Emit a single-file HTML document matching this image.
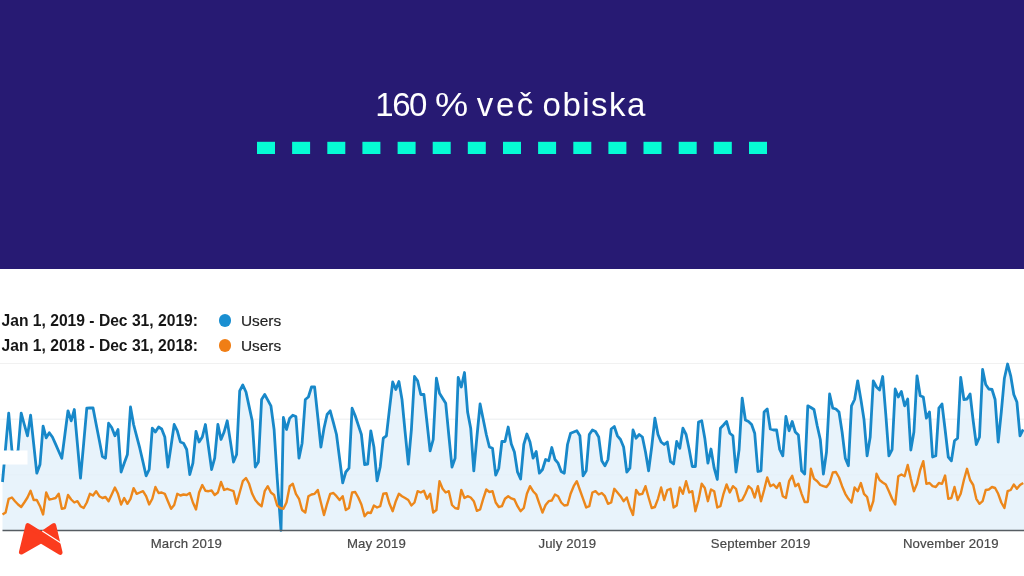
<!DOCTYPE html>
<html lang="sl"><head><meta charset="utf-8"><title>160 % več obiska</title>
<style>
html,body{margin:0;padding:0;}
body{width:1024px;height:576px;overflow:hidden;background:#fff;position:relative;font-family:"Liberation Sans",sans-serif;}
.hdr{position:absolute;left:0;top:0;width:1024px;height:268.5px;background:#271a73;}
.title span{position:absolute;top:0}
.title{position:absolute;left:0;top:85.2px;color:#fff;font-size:33px;line-height:40px;letter-spacing:0.75px;white-space:nowrap;}
.lg{position:absolute;left:1.5px;font-weight:bold;font-size:15.65px;line-height:18px;color:#161616;white-space:nowrap;}
.us{position:absolute;left:241px;font-size:15.4px;line-height:18px;color:#222;-webkit-text-stroke:0.2px #222;white-space:nowrap;}
.dot{position:absolute;width:12.6px;height:12.6px;border-radius:50%;}
.ax{position:absolute;top:536px;font-size:13.2px;letter-spacing:0.15px;line-height:15px;color:#484848;-webkit-text-stroke:0.2px #484848;white-space:nowrap;transform:translateX(-50%);}
svg{position:absolute;left:0;top:0;}
</style></head><body>
<div class="hdr"></div>
<div class="title"><span style="left:375.3px;letter-spacing:-1.5px">160</span> <span style="left:435.1px;letter-spacing:0;transform:scaleX(1.13);transform-origin:0 0">%</span> <span style="left:476.8px;letter-spacing:2.6px">več</span> <span style="left:542.6px;letter-spacing:1.45px">obiska</span></div>
<div class="lg" style="top:312.2px">Jan 1, 2019 - Dec 31, 2019:</div>
<div class="lg" style="top:337.2px">Jan 1, 2018 - Dec 31, 2018:</div>
<div class="dot" style="left:218.7px;top:314.2px;background:#1a8fd1"></div>
<div class="dot" style="left:218.7px;top:339.1px;background:#f07e15"></div>
<div class="us" style="top:312.1px">Users</div>
<div class="us" style="top:337.1px">Users</div>
<svg width="1024" height="576" viewBox="0 0 1024 576">
<g fill="#06fbd5"><rect x="257.0" y="141.8" width="18" height="12.2"/><rect x="292.1" y="141.8" width="18" height="12.2"/><rect x="327.3" y="141.8" width="18" height="12.2"/><rect x="362.4" y="141.8" width="18" height="12.2"/><rect x="397.6" y="141.8" width="18" height="12.2"/><rect x="432.7" y="141.8" width="18" height="12.2"/><rect x="467.8" y="141.8" width="18" height="12.2"/><rect x="503.0" y="141.8" width="18" height="12.2"/><rect x="538.1" y="141.8" width="18" height="12.2"/><rect x="573.3" y="141.8" width="18" height="12.2"/><rect x="608.4" y="141.8" width="18" height="12.2"/><rect x="643.5" y="141.8" width="18" height="12.2"/><rect x="678.7" y="141.8" width="18" height="12.2"/><rect x="713.8" y="141.8" width="18" height="12.2"/><rect x="749.0" y="141.8" width="18" height="12.2"/></g>
<g stroke="#f1f1f1" stroke-width="1"><line x1="0" y1="363.5" x2="1024" y2="363.5"/><line x1="0" y1="419.2" x2="1024" y2="419.2"/><line x1="0" y1="474.8" x2="1024" y2="474.8"/></g>
<polygon points="2.5,530.5 2.5,482.0 5.6,447.6 8.7,413.2 11.9,450.0 15.0,458.2 18.1,450.0 21.2,413.2 24.3,424.5 27.5,435.8 30.6,415.2 33.7,444.2 36.8,473.2 40.0,464.5 43.1,426.2 46.2,437.8 49.3,432.8 52.4,437.0 55.6,444.1 58.7,451.2 61.8,458.2 64.9,434.5 68.0,410.8 71.2,420.8 74.3,409.5 77.4,443.9 80.5,478.2 83.7,443.2 86.8,408.2 89.9,408.0 93.0,407.8 96.1,424.0 99.3,440.2 102.4,456.5 105.5,458.2 108.6,423.2 111.7,427.5 114.9,435.8 118.0,429.5 121.1,472.0 124.2,463.2 127.4,454.5 130.5,407.0 133.6,424.5 136.7,436.4 139.8,448.2 143.0,462.0 146.1,475.8 149.2,469.5 152.3,428.2 155.4,432.0 158.6,427.0 161.7,429.0 164.8,437.0 167.9,467.0 171.1,445.8 174.2,424.5 177.3,430.8 180.4,442.0 183.5,443.2 186.7,449.5 189.8,474.5 192.9,463.2 196.0,431.5 199.1,442.0 202.3,437.0 205.4,424.5 208.5,447.0 211.6,469.5 214.7,458.2 217.9,424.5 221.0,439.5 224.1,432.0 227.2,420.8 230.4,441.4 233.5,462.0 236.6,454.5 239.7,390.8 242.8,385.0 246.0,392.0 249.1,406.4 252.2,420.8 255.3,467.0 258.4,462.0 261.6,399.5 264.7,394.5 267.8,400.1 270.9,405.8 274.1,429.5 277.2,478.2 281.0,530.3 283.4,417.5 286.5,429.5 289.7,418.2 292.8,415.2 295.9,416.5 299.0,458.2 302.1,443.2 305.3,399.5 308.4,397.0 311.5,387.0 314.6,387.0 317.8,417.0 320.9,447.0 324.0,428.2 327.1,414.5 330.2,410.8 333.4,422.6 336.5,434.5 339.6,458.6 342.7,482.8 345.8,472.0 349.0,468.2 352.1,408.2 355.2,415.8 358.3,425.1 361.4,434.5 364.6,464.5 367.7,464.0 370.8,430.8 373.9,447.0 377.1,480.8 380.2,467.0 383.3,438.2 386.4,435.8 389.5,408.9 392.7,382.0 395.8,389.5 398.9,381.5 402.0,399.5 405.1,431.8 408.3,464.0 411.4,429.5 414.5,376.5 417.6,380.8 420.8,394.5 423.9,394.5 427.0,422.6 430.1,450.8 433.2,439.5 436.4,378.2 439.5,393.2 442.6,398.2 445.7,403.2 448.8,435.1 452.0,467.0 455.1,458.2 458.2,377.5 461.3,387.0 464.5,372.5 467.6,412.0 470.7,428.2 473.8,470.8 476.9,437.0 480.1,404.0 483.2,419.2 486.3,434.5 489.4,447.0 492.5,448.2 495.7,475.2 498.8,468.2 501.9,441.5 505.0,441.5 508.2,427.0 511.3,443.9 514.4,452.0 517.5,472.0 520.6,479.0 523.8,444.5 526.9,434.0 530.0,442.0 533.1,458.2 536.2,451.5 539.4,473.2 542.5,469.5 545.6,459.5 548.7,460.8 551.8,447.5 555.0,459.5 558.1,463.2 561.2,471.5 564.3,473.2 567.5,444.5 570.6,433.2 573.7,432.0 576.8,430.8 579.9,435.8 583.1,475.8 586.2,470.8 589.3,434.5 592.4,430.0 595.5,431.5 598.7,437.0 601.8,460.8 604.9,465.8 608.0,459.5 611.2,429.0 614.3,426.5 617.4,435.8 620.5,439.5 623.6,447.0 626.8,472.0 629.9,468.2 633.0,430.0 636.1,438.2 639.2,434.5 642.4,437.0 645.5,452.0 648.6,470.8 651.7,447.0 654.9,418.2 658.0,434.5 661.1,442.0 664.2,444.5 667.3,442.0 670.5,461.7 673.6,464.0 676.7,441.5 679.8,448.2 682.9,428.2 686.1,434.5 689.2,449.5 692.3,466.5 695.4,466.5 698.5,422.0 701.7,420.8 704.8,438.2 707.9,463.2 711.0,449.0 714.2,468.2 717.3,479.5 720.4,428.2 723.5,425.0 726.6,421.5 729.8,433.2 732.9,435.8 736.0,472.0 739.1,449.5 742.2,398.2 745.4,420.0 748.5,421.5 751.6,424.5 754.7,433.2 757.9,471.5 761.0,470.8 764.1,412.0 767.2,408.9 770.3,429.0 773.5,430.0 776.6,430.0 779.7,449.5 782.8,455.8 785.9,416.5 789.1,430.8 792.2,421.5 795.3,432.0 798.4,435.0 801.6,470.8 804.7,474.0 807.8,405.8 810.9,407.5 814.0,409.5 817.2,425.8 820.3,439.5 823.4,474.0 826.5,452.0 829.6,394.0 832.8,408.2 835.9,409.0 839.0,412.0 842.1,432.0 845.3,458.2 848.4,465.8 851.5,405.8 854.6,399.5 857.7,380.8 860.9,399.5 864.0,419.5 867.1,455.8 870.2,437.0 873.3,380.8 876.5,387.0 879.6,390.0 882.7,376.5 885.8,414.5 888.9,455.8 892.1,449.5 895.2,389.0 898.3,397.0 901.4,391.5 904.6,405.8 907.7,399.0 910.8,450.0 913.9,432.0 917.0,375.8 920.2,395.8 923.3,397.0 926.4,418.2 929.5,412.0 932.6,457.0 935.8,455.8 938.9,408.2 942.0,404.0 945.1,429.5 948.3,457.0 951.4,460.8 954.5,440.8 957.6,438.2 960.7,377.5 963.9,399.5 967.0,399.0 970.1,394.0 973.2,420.8 976.3,444.5 979.5,437.0 982.6,369.5 985.7,384.5 988.8,389.0 992.0,389.5 995.1,399.5 998.2,442.0 1001.3,412.0 1004.4,378.2 1007.6,364.0 1010.7,375.8 1013.8,394.5 1016.9,402.0 1020.0,435.8 1023.2,429.5 1024,429.5 1024,530.5" fill="#e8f3fb"/>
<g stroke="#dfe8f0" stroke-width="1" opacity="0.25"><line x1="2.5" y1="419.2" x2="1024" y2="419.2"/><line x1="2.5" y1="474.8" x2="1024" y2="474.8"/></g>
<polyline points="2.5,482.0 5.6,447.6 8.7,413.2 11.9,450.0 15.0,458.2 18.1,450.0 21.2,413.2 24.3,424.5 27.5,435.8 30.6,415.2 33.7,444.2 36.8,473.2 40.0,464.5 43.1,426.2 46.2,437.8 49.3,432.8 52.4,437.0 55.6,444.1 58.7,451.2 61.8,458.2 64.9,434.5 68.0,410.8 71.2,420.8 74.3,409.5 77.4,443.9 80.5,478.2 83.7,443.2 86.8,408.2 89.9,408.0 93.0,407.8 96.1,424.0 99.3,440.2 102.4,456.5 105.5,458.2 108.6,423.2 111.7,427.5 114.9,435.8 118.0,429.5 121.1,472.0 124.2,463.2 127.4,454.5 130.5,407.0 133.6,424.5 136.7,436.4 139.8,448.2 143.0,462.0 146.1,475.8 149.2,469.5 152.3,428.2 155.4,432.0 158.6,427.0 161.7,429.0 164.8,437.0 167.9,467.0 171.1,445.8 174.2,424.5 177.3,430.8 180.4,442.0 183.5,443.2 186.7,449.5 189.8,474.5 192.9,463.2 196.0,431.5 199.1,442.0 202.3,437.0 205.4,424.5 208.5,447.0 211.6,469.5 214.7,458.2 217.9,424.5 221.0,439.5 224.1,432.0 227.2,420.8 230.4,441.4 233.5,462.0 236.6,454.5 239.7,390.8 242.8,385.0 246.0,392.0 249.1,406.4 252.2,420.8 255.3,467.0 258.4,462.0 261.6,399.5 264.7,394.5 267.8,400.1 270.9,405.8 274.1,429.5 277.2,478.2 281.0,530.3 283.4,417.5 286.5,429.5 289.7,418.2 292.8,415.2 295.9,416.5 299.0,458.2 302.1,443.2 305.3,399.5 308.4,397.0 311.5,387.0 314.6,387.0 317.8,417.0 320.9,447.0 324.0,428.2 327.1,414.5 330.2,410.8 333.4,422.6 336.5,434.5 339.6,458.6 342.7,482.8 345.8,472.0 349.0,468.2 352.1,408.2 355.2,415.8 358.3,425.1 361.4,434.5 364.6,464.5 367.7,464.0 370.8,430.8 373.9,447.0 377.1,480.8 380.2,467.0 383.3,438.2 386.4,435.8 389.5,408.9 392.7,382.0 395.8,389.5 398.9,381.5 402.0,399.5 405.1,431.8 408.3,464.0 411.4,429.5 414.5,376.5 417.6,380.8 420.8,394.5 423.9,394.5 427.0,422.6 430.1,450.8 433.2,439.5 436.4,378.2 439.5,393.2 442.6,398.2 445.7,403.2 448.8,435.1 452.0,467.0 455.1,458.2 458.2,377.5 461.3,387.0 464.5,372.5 467.6,412.0 470.7,428.2 473.8,470.8 476.9,437.0 480.1,404.0 483.2,419.2 486.3,434.5 489.4,447.0 492.5,448.2 495.7,475.2 498.8,468.2 501.9,441.5 505.0,441.5 508.2,427.0 511.3,443.9 514.4,452.0 517.5,472.0 520.6,479.0 523.8,444.5 526.9,434.0 530.0,442.0 533.1,458.2 536.2,451.5 539.4,473.2 542.5,469.5 545.6,459.5 548.7,460.8 551.8,447.5 555.0,459.5 558.1,463.2 561.2,471.5 564.3,473.2 567.5,444.5 570.6,433.2 573.7,432.0 576.8,430.8 579.9,435.8 583.1,475.8 586.2,470.8 589.3,434.5 592.4,430.0 595.5,431.5 598.7,437.0 601.8,460.8 604.9,465.8 608.0,459.5 611.2,429.0 614.3,426.5 617.4,435.8 620.5,439.5 623.6,447.0 626.8,472.0 629.9,468.2 633.0,430.0 636.1,438.2 639.2,434.5 642.4,437.0 645.5,452.0 648.6,470.8 651.7,447.0 654.9,418.2 658.0,434.5 661.1,442.0 664.2,444.5 667.3,442.0 670.5,461.7 673.6,464.0 676.7,441.5 679.8,448.2 682.9,428.2 686.1,434.5 689.2,449.5 692.3,466.5 695.4,466.5 698.5,422.0 701.7,420.8 704.8,438.2 707.9,463.2 711.0,449.0 714.2,468.2 717.3,479.5 720.4,428.2 723.5,425.0 726.6,421.5 729.8,433.2 732.9,435.8 736.0,472.0 739.1,449.5 742.2,398.2 745.4,420.0 748.5,421.5 751.6,424.5 754.7,433.2 757.9,471.5 761.0,470.8 764.1,412.0 767.2,408.9 770.3,429.0 773.5,430.0 776.6,430.0 779.7,449.5 782.8,455.8 785.9,416.5 789.1,430.8 792.2,421.5 795.3,432.0 798.4,435.0 801.6,470.8 804.7,474.0 807.8,405.8 810.9,407.5 814.0,409.5 817.2,425.8 820.3,439.5 823.4,474.0 826.5,452.0 829.6,394.0 832.8,408.2 835.9,409.0 839.0,412.0 842.1,432.0 845.3,458.2 848.4,465.8 851.5,405.8 854.6,399.5 857.7,380.8 860.9,399.5 864.0,419.5 867.1,455.8 870.2,437.0 873.3,380.8 876.5,387.0 879.6,390.0 882.7,376.5 885.8,414.5 888.9,455.8 892.1,449.5 895.2,389.0 898.3,397.0 901.4,391.5 904.6,405.8 907.7,399.0 910.8,450.0 913.9,432.0 917.0,375.8 920.2,395.8 923.3,397.0 926.4,418.2 929.5,412.0 932.6,457.0 935.8,455.8 938.9,408.2 942.0,404.0 945.1,429.5 948.3,457.0 951.4,460.8 954.5,440.8 957.6,438.2 960.7,377.5 963.9,399.5 967.0,399.0 970.1,394.0 973.2,420.8 976.3,444.5 979.5,437.0 982.6,369.5 985.7,384.5 988.8,389.0 992.0,389.5 995.1,399.5 998.2,442.0 1001.3,412.0 1004.4,378.2 1007.6,364.0 1010.7,375.8 1013.8,394.5 1016.9,402.0 1020.0,435.8 1023.2,429.5" fill="none" stroke="#1888c9" stroke-width="2.8" stroke-linejoin="round"/>
<polyline points="2.5,514.5 5.6,512.5 8.7,498.8 11.9,497.5 15.0,501.2 18.1,504.5 21.2,507.0 24.3,502.5 27.5,497.5 30.6,490.8 33.7,500.0 36.8,500.0 40.0,506.2 43.1,514.5 46.2,492.5 49.3,499.5 52.4,498.8 55.6,498.0 58.7,493.8 61.8,508.8 64.9,508.0 68.0,495.0 71.2,499.5 74.3,502.5 77.4,501.2 80.5,506.2 83.7,508.0 86.8,502.5 89.9,493.8 93.0,495.5 96.1,491.2 99.3,496.2 102.4,498.0 105.5,497.0 108.6,501.2 111.7,494.5 114.9,487.5 118.0,493.8 121.1,504.5 124.2,498.0 127.4,503.8 130.5,498.8 133.6,488.2 136.7,493.8 139.8,492.5 143.0,491.2 146.1,496.2 149.2,504.5 152.3,498.8 155.4,487.0 158.6,493.0 161.7,492.5 164.8,493.8 167.9,501.2 171.1,508.8 174.2,505.0 177.3,493.8 180.4,495.5 183.5,494.5 186.7,495.0 189.8,493.0 192.9,502.5 196.0,509.5 199.1,492.5 202.3,485.0 205.4,490.8 208.5,491.2 211.6,490.5 214.7,495.0 217.9,492.5 221.0,482.0 224.1,490.0 227.2,488.8 230.4,490.0 233.5,491.2 236.6,503.8 239.7,492.5 242.8,481.2 246.0,478.0 249.1,483.8 252.2,493.8 255.3,500.0 258.4,503.8 261.6,506.2 264.7,491.2 267.8,486.2 270.9,492.5 274.1,495.0 277.2,505.5 280.3,508.0 283.4,508.8 286.5,502.5 289.7,486.2 292.8,483.8 295.9,493.8 299.0,498.8 302.1,510.0 305.3,512.5 308.4,496.2 311.5,494.5 314.6,493.8 317.8,490.0 320.9,502.5 324.0,515.0 327.1,503.8 330.2,493.8 333.4,493.0 336.5,496.2 339.6,500.0 342.7,496.2 345.8,510.0 349.0,508.0 352.1,492.5 355.2,492.0 358.3,497.5 361.4,504.5 364.6,516.2 367.7,512.5 370.8,513.0 373.9,505.5 377.1,507.5 380.2,506.2 383.3,493.8 386.4,493.2 389.5,503.8 392.7,511.2 395.8,501.2 398.9,493.8 402.0,496.2 405.1,498.0 408.3,500.0 411.4,505.5 414.5,502.5 417.6,491.2 420.8,492.5 423.9,490.8 427.0,498.8 430.1,493.8 433.2,512.5 436.4,510.0 439.5,481.2 442.6,488.8 445.7,492.5 448.8,491.2 452.0,505.0 455.1,508.0 458.2,508.8 461.3,490.0 464.5,498.0 467.6,496.2 470.7,497.5 473.8,501.2 476.9,510.8 480.1,509.5 483.2,498.8 486.3,489.5 489.4,492.0 492.5,491.2 495.7,502.5 498.8,507.0 501.9,506.2 505.0,498.8 508.2,496.2 511.3,498.4 514.4,499.5 517.5,506.2 520.6,511.2 523.8,508.0 526.9,493.8 530.0,486.2 533.1,491.2 536.2,494.5 539.4,503.8 542.5,512.5 545.6,505.0 548.7,501.2 551.8,500.5 555.0,494.5 558.1,496.2 561.2,502.5 564.3,505.5 567.5,505.0 570.6,493.8 573.7,486.2 576.8,481.2 579.9,490.0 583.1,498.8 586.2,507.5 589.3,506.2 592.4,492.5 595.5,491.2 598.7,494.5 601.8,493.0 604.9,496.2 608.0,503.8 611.2,502.5 614.3,488.8 617.4,492.5 620.5,496.2 623.6,501.2 626.8,497.5 629.9,507.5 633.0,515.0 636.1,490.0 639.2,494.5 642.4,493.8 645.5,486.2 648.6,497.5 651.7,508.0 654.9,507.0 658.0,498.8 661.1,487.5 664.2,500.0 667.3,490.0 670.5,488.8 673.6,507.5 676.7,505.5 679.8,487.5 682.9,493.8 686.1,481.2 689.2,492.5 692.3,491.2 695.4,511.2 698.5,500.0 701.7,483.8 704.8,488.0 707.9,501.2 711.0,489.5 714.2,491.2 717.3,507.5 720.4,506.2 723.5,493.8 726.6,484.5 729.8,492.5 732.9,486.2 736.0,488.8 739.1,501.2 742.2,500.0 745.4,493.8 748.5,486.2 751.6,488.8 754.7,497.5 757.9,486.2 761.0,501.2 764.1,490.0 767.2,477.5 770.3,486.2 773.5,484.5 776.6,488.0 779.7,483.0 782.8,496.2 785.9,498.0 789.1,481.2 792.2,475.8 795.3,486.2 798.4,483.8 801.6,493.8 804.7,502.0 807.8,502.0 810.9,468.8 814.0,478.8 817.2,481.2 820.3,485.0 823.4,486.2 826.5,487.0 829.6,483.0 832.8,472.5 835.9,472.0 839.0,477.5 842.1,486.2 845.3,493.8 848.4,498.8 851.5,502.5 854.6,487.5 857.7,491.2 860.9,483.0 864.0,493.8 867.1,497.0 870.2,510.5 873.3,501.2 876.5,473.8 879.6,480.0 882.7,482.5 885.8,484.5 888.9,491.2 892.1,498.8 895.2,504.5 898.3,476.2 901.4,474.5 904.6,476.2 907.7,465.0 910.8,478.8 913.9,491.2 917.0,483.8 920.2,470.0 923.3,461.2 926.4,483.8 929.5,483.0 932.6,486.2 935.8,487.0 938.9,483.0 942.0,483.8 945.1,475.5 948.3,498.8 951.4,498.0 954.5,487.0 957.6,500.0 960.7,493.8 963.9,480.0 967.0,468.8 970.1,480.0 973.2,485.0 976.3,498.8 979.5,503.8 982.6,501.2 985.7,490.0 988.8,489.5 992.0,487.0 995.1,488.0 998.2,493.8 1001.3,502.5 1004.4,508.0 1007.6,491.2 1010.7,490.0 1013.8,484.5 1016.9,488.8 1020.0,485.0 1023.2,483.0" fill="none" stroke="#ec871b" stroke-width="2.4" stroke-linejoin="round"/>
<rect x="0" y="450.5" width="27.5" height="14" fill="#fff"/>
<line x1="2.5" y1="530.5" x2="1024" y2="530.5" stroke="#565c62" stroke-width="1.7"/>
<polygon points="27.84,525.51 21.35,552.18 41.04,541.02 60.16,552.51 53.78,525.49 41.47,534.08" fill="#fb3b1e" stroke="#fb3b1e" stroke-width="4.8" stroke-linejoin="round"/>
<line x1="42.3" y1="531.1" x2="62.5" y2="543.95" stroke="#fff" stroke-width="1.2"/>
</svg>
<div class="ax" style="left:186.3px">March 2019</div>
<div class="ax" style="left:376.5px">May 2019</div>
<div class="ax" style="left:567.3px">July 2019</div>
<div class="ax" style="left:760.6px">September 2019</div>
<div class="ax" style="left:950.8px">November 2019</div>
</body></html>
